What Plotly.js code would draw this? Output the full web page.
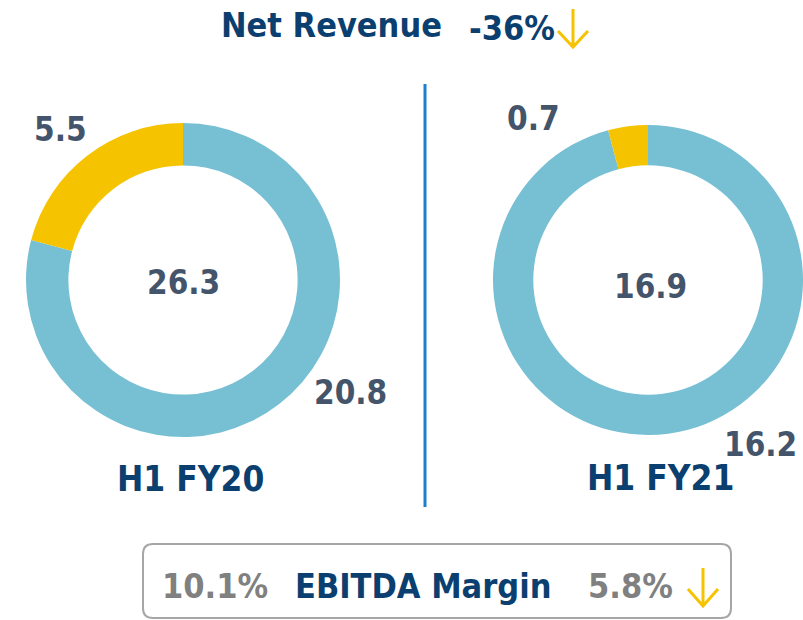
<!DOCTYPE html>
<html>
<head>
<meta charset="utf-8">
<script src="https://cdn.plot.ly/plotly-3.0.1.min.js"></script>
<style>html,body{margin:0;padding:0;background:#fff;}#chart{width:803px;height:620px;}</style>
</head>
<body>
<div id="chart"></div>
<script>
// ---- data ----
const periods = ["H1 FY20", "H1 FY21"];
const segmentNames = ["Main", "Other"];
const fy20Values = [20.8, 5.5];
const fy21Values = [16.2, 0.7];
const totals = [26.3, 16.9];
const revenueChange = "-36%";
const ebitdaMargins = ["10.1%", "5.8%"];
const metricTitle = "Net Revenue";
const ebitdaTitle = "EBITDA Margin";

// ---- styles ----
const BLUE = "#77BFD3", YELLOW = "#F6C300", NAVY = "#0B3F70", SLATE = "#44546A", GRAY = "#808080";
const FONT = "DejaVu Sans Condensed";
const W = 803, H = 620;
const px = v => v / W, py = v => 1 - v / H;

function donut(values, dom, hole) {
  return {
    type: "pie", values: values, labels: segmentNames, sort: false, direction: "clockwise",
    rotation: 0, hole: hole, textinfo: "none", hoverinfo: "label+value",
    marker: {colors: [BLUE, YELLOW], line: {width: 0}},
    domain: dom, showlegend: false
  };
}

const data = [
  donut(fy20Values, {x: [px(26), px(340)], y: [py(437), py(123)]}, 0.73),
  donut(fy21Values, {x: [px(493), px(803)], y: [py(435), py(125)]}, 0.74)
];

function ann(text, x, y, color, size) {
  return {text: text, x: x, y: y, xref: "x", yref: "y", showarrow: false, xanchor: "center", yanchor: "middle",
    font: {family: FONT, size: size, color: color, weight: "bold"}};
}

const annotations = [
  ann(metricTitle, 331, 25, NAVY, 34),
  ann(revenueChange, 512, 28, NAVY, 34),
  ann(fy20Values[1].toFixed(1), 60, 129, SLATE, 33),
  ann(fy20Values[0].toFixed(1), 350, 392, SLATE, 33),
  ann(totals[0].toFixed(1), 183, 282, SLATE, 33),
  ann(periods[0], 190, 479, NAVY, 35),
  ann(fy21Values[1].toFixed(1), 533, 118, SLATE, 33),
  ann(totals[1].toFixed(1), 650, 286, SLATE, 33),
  ann(fy21Values[0].toFixed(1), 760, 444, SLATE, 33),
  ann(periods[1], 660, 478, NAVY, 35),
  ann(ebitdaMargins[0], 215, 586, GRAY, 34),
  ann(ebitdaTitle, 423, 586, NAVY, 34),
  ann(ebitdaMargins[1], 630, 586, GRAY, 34)
];

function arrowPath(cx, top, bottom, armY, half) {
  return "M" + cx + "," + top + " L" + cx + "," + bottom + " M" + (cx - half) + "," + armY + " L" + cx + "," + bottom + " L" + (cx + half) + "," + armY;
}

const shapes = [
  {type: "line", xref: "x", yref: "y", x0: 425, x1: 425, y0: 84, y1: 507, line: {color: "#1A7FCF", width: 3}},
  {type: "path", xref: "x", yref: "y", path: arrowPath(573, 9, 47, 31, 15), line: {color: YELLOW, width: 3}},
  {type: "path", xref: "x", yref: "y", path: arrowPath(703, 568, 606, 589, 15), line: {color: YELLOW, width: 3}},
  {type: "path", xref: "x", yref: "y",
    path: "M153,544 L721,544 Q731,544 731,554 L731,608 Q731,618 721,618 L153,618 Q143,618 143,608 L143,554 Q143,544 153,544 Z",
    line: {color: "#A6A6A6", width: 2}, fillcolor: "rgba(0,0,0,0)"}
];

const layout = {
  width: W, height: H, margin: {l: 0, r: 0, t: 0, b: 0},
  paper_bgcolor: "#fff", plot_bgcolor: "rgba(0,0,0,0)",
  xaxis: {range: [0, W], visible: false, fixedrange: true, domain: [0, 1]},
  yaxis: {range: [H, 0], visible: false, fixedrange: true, domain: [0, 1]},
  annotations: annotations, shapes: shapes, showlegend: false
};

Plotly.newPlot("chart", data, layout, {displayModeBar: false, staticPlot: true});
</script>
</body>
</html>
